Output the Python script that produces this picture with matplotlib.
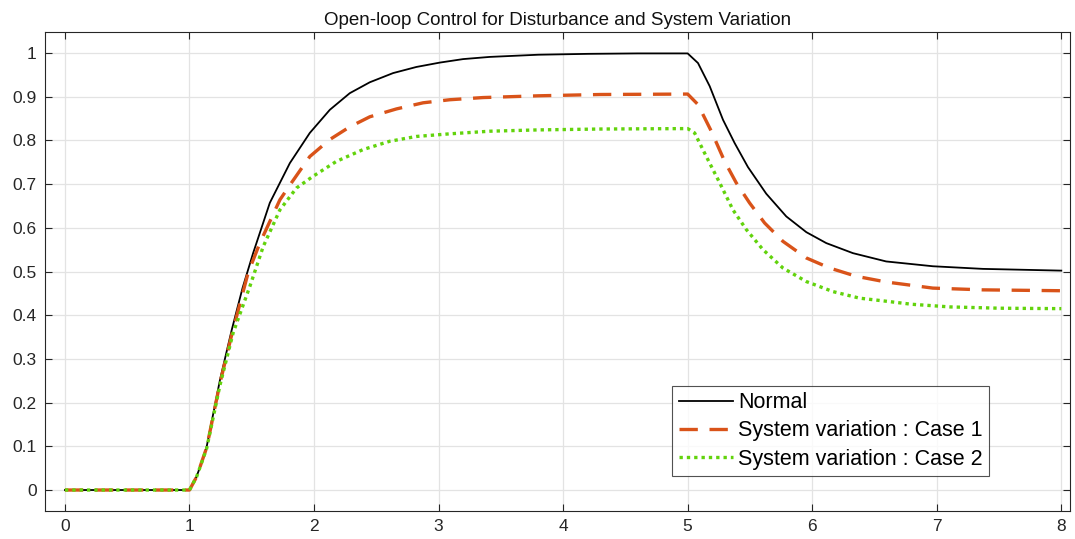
import matplotlib
matplotlib.use('Agg')
import matplotlib.pyplot as plt

plt.rcParams['font.family'] = ['Liberation Sans', 'DejaVu Sans']

# time samples (solver steps are uneven)
t_normal = [0, 1.0, 1.057, 1.097, 1.138, 1.245, 1.339, 1.426, 1.511, 1.645, 1.806, 1.966,
            2.127, 2.287, 2.448, 2.635, 2.822, 3.01, 3.197, 3.411, 3.8, 4.2, 4.6, 5.0,
            5.083, 5.177, 5.284, 5.377, 5.484, 5.631, 5.792, 5.953, 6.113, 6.327, 6.594,
            6.969, 7.37, 8.0]
normal = [0, 0, 0.031, 0.062, 0.099, 0.252, 0.366, 0.462, 0.542, 0.657, 0.748, 0.817,
          0.870, 0.908, 0.933, 0.954, 0.968, 0.978, 0.986, 0.991, 0.996, 0.998, 0.999, 0.999,
          0.977, 0.924, 0.847, 0.794, 0.739, 0.678, 0.626, 0.590, 0.565, 0.542, 0.523,
          0.512, 0.506, 0.502]

t_case1 = [0, 1.0, 1.057, 1.138, 1.245, 1.339, 1.471, 1.565, 1.726, 1.819, 1.966, 2.127,
           2.287, 2.448, 2.662, 2.876, 3.09, 3.357, 3.8, 4.3, 5.0,
           5.083, 5.19, 5.297, 5.39, 5.497, 5.618, 5.765, 5.953, 6.14, 6.354, 6.594,
           6.969, 7.37, 8.0]
case1 = [0, 0, 0.030, 0.097, 0.245, 0.355, 0.497, 0.565, 0.664, 0.703, 0.763, 0.802,
         0.831, 0.854, 0.872, 0.886, 0.893, 0.898, 0.902, 0.905, 0.906,
         0.882, 0.821, 0.752, 0.703, 0.657, 0.611, 0.569, 0.531, 0.508, 0.489, 0.476,
         0.462, 0.458, 0.456]

t_case2 = [0, 1.0, 1.057, 1.138, 1.245, 1.351, 1.485, 1.592, 1.726, 1.859, 1.993, 2.18,
           2.394, 2.608, 2.822, 3.09, 3.411, 3.8, 4.3, 5.0,
           5.056, 5.15, 5.257, 5.364, 5.471, 5.605, 5.765, 5.953, 6.167, 6.38, 6.594,
           6.8, 7.103, 7.504, 8.0]
case2 = [0, 0, 0.030, 0.095, 0.240, 0.360, 0.466, 0.557, 0.641, 0.691, 0.718, 0.752,
         0.779, 0.798, 0.809, 0.815, 0.821, 0.824, 0.826, 0.827,
         0.817, 0.763, 0.703, 0.641, 0.596, 0.550, 0.508, 0.477, 0.454, 0.439, 0.432,
         0.425, 0.419, 0.416, 0.415]

x_ticks = [0, 1, 2, 3, 4, 5, 6, 7, 8]
y_ticks = [0, 0.1, 0.2, 0.3, 0.4, 0.5, 0.6, 0.7, 0.8, 0.9, 1]
y_labels = ['0', '0.1', '0.2', '0.3', '0.4', '0.5', '0.6', '0.7', '0.8', '0.9', '1']

fig = plt.figure(figsize=(10.75, 5.39), dpi=100)
ax = fig.add_axes([45 / 1075, 1 - 511 / 539, 1025 / 1075, 479 / 539])

ax.plot(t_normal, normal, color='black', lw=1.3, label='Normal')
ax.plot(t_case1, case1, color='#d95319', lw=2.4, linestyle=(0, (5.5, 3.5)),
        label='System variation : Case 1')
ax.plot(t_case2, case2, color='#62d30c', lw=2.4, linestyle=(0, (1, 1.2)),
        label='System variation : Case 2')

ax.set_xlim(-0.16, 8.07)
ax.set_ylim(-0.048, 1.048)
ax.set_xticks(x_ticks)
ax.set_yticks(y_ticks)
ax.set_yticklabels(y_labels)
ax.tick_params(direction='in', top=True, right=True, length=5, width=0.8,
               colors='#262626', labelsize=12.5, pad=6)
ax.grid(True, color='#e3e3e3', lw=0.9)
ax.set_axisbelow(True)
for s in ax.spines.values():
    s.set_color('#262626')
    s.set_linewidth(0.8)

ax.set_title('Open-loop Control for Disturbance and System Variation',
             fontsize=13.5, color='#111111', pad=5)

leg = ax.legend(loc='lower left', bbox_to_anchor=(0.612, 0.073), fontsize=15.5,
                frameon=True, fancybox=False, handlelength=2.5, handletextpad=0.25,
                borderpad=0.3, labelspacing=0.33, borderaxespad=0)
leg.get_frame().set_edgecolor('#262626')
leg.get_frame().set_linewidth(0.8)

fig.savefig('out.png', dpi=100)
